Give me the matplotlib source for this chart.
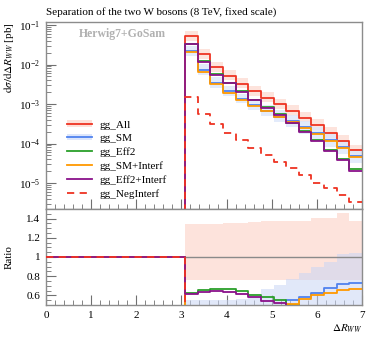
import numpy as np
import matplotlib
matplotlib.use("Agg")
import matplotlib.pyplot as plt
from matplotlib.ticker import MultipleLocator, LogLocator, NullFormatter, FixedLocator
from matplotlib.lines import Line2D
from matplotlib.patches import Patch
from matplotlib.legend_handler import HandlerTuple

plt.rcParams['font.family'] = ['Liberation Serif', 'DejaVu Serif']
plt.rcParams['mathtext.fontset'] = 'stix'

# ---- data ----
edges = np.linspace(0.0, 7.0, 26)          # bin edges (0.28 wide)
n_empty = 11                               # bins below 3.08 are empty
all_vals = [0.053, 0.0183, 0.00865, 0.00527, 0.00330, 0.00213, 0.00146, 0.00100,
            0.000676, 0.000450, 0.000294, 0.000181, 0.000116, 6.7e-5]
sm_vals = [0.0221, 0.00714, 0.00346, 0.00211, 0.00138, 0.000937, 0.000686, 0.00048,
           0.000372, 0.000263, 0.000185, 0.000123, 8.3e-5, 4.86e-5]
eff2_vals = [0.0334, 0.0120, 0.00576, 0.00349, 0.00212, 0.00129, 0.000850, 0.000554,
             0.000336, 0.000207, 0.000123, 6.7e-5, 3.99e-5, 2.26e-5]
sm_int_vals = [0.0212, 0.00659, 0.00320, 0.00195, 0.00129, 0.000895, 0.000657, 0.00047,
               0.000347, 0.000254, 0.000178, 0.000114, 7.63e-5, 4.46e-5]
eff2_int_vals = [0.0325, 0.01155, 0.00555, 0.00335, 0.00203, 0.00124, 0.000793, 0.000519,
                 0.000324, 0.000198, 0.000118, 6.5e-5, 3.83e-5, 2.01e-5]
neg_vals = [0.00148, 0.000548, 0.000306, 0.000188, 0.000123, 7.8e-5, 5.1e-5, 3.4e-5,
            2.4e-5, 1.6e-5, 9.8e-6, 7.5e-6, 5.0e-6, 3.4e-6]
# scale-variation band factors
all_up = [1.34, 1.34, 1.34, 1.35, 1.35, 1.36, 1.37, 1.38, 1.38, 1.38, 1.41, 1.41, 1.46, 1.38]
all_dn = [0.76, 0.76, 0.76, 0.76, 0.76, 0.76, 0.76, 0.76, 0.76, 0.76, 0.76, 0.76, 0.76, 0.76]
sm_up = [1.33, 1.42, 1.39, 1.39, 1.34, 1.32, 1.42, 1.47, 1.40, 1.42, 1.42, 1.40, 1.44, 1.44]
sm_dn = [0.76, 0.76, 0.76, 0.76, 0.76, 0.75, 0.74, 0.72, 0.70, 0.68, 0.66, 0.65, 0.65, 0.65]

labels = ['gg_All', 'gg_SM', 'gg_Eff2', 'gg_SM+Interf', 'gg_Eff2+Interf', 'gg_NegInterf']
colors = ['#ee3322', '#4f82ee', '#2a9f2a', '#ff9900', '#8a118a', '#ee3322']
styles = ['-', '-', '-', '-', '-', '--']
LW = 1.3

def full(v):
    return np.concatenate([np.zeros(n_empty), np.asarray(v, float)])

series = [full(v) for v in (all_vals, sm_vals, eff2_vals, sm_int_vals, eff2_int_vals, neg_vals)]
ref = series[0]
a_up, a_dn = full(all_vals) * full(all_up), full(all_vals) * full(all_dn)
s_up, s_dn = full(sm_vals) * full(sm_up), full(sm_vals) * full(sm_dn)
mask = ref > 0

def stepvals(v):
    return np.append(v, v[-1])

W, H = 374, 337
fig = plt.figure(figsize=(W / 100, H / 100), dpi=100)
ax = fig.add_axes([46 / W, 1 - 209 / H, 316 / W, 187 / H])
rx = fig.add_axes([46 / W, 1 - 305 / H, 316 / W, 96 / H], sharex=ax)

band_red = '#fde0d9'
band_blue = '#dde6fb'

# main panel bands
ax.fill_between(edges, stepvals(np.where(mask, a_dn, np.nan)), stepvals(np.where(mask, a_up, np.nan)),
                step='post', color=band_red, lw=0, zorder=1, alpha=0.9)
ax.fill_between(edges, stepvals(np.where(mask, s_dn, np.nan)), stepvals(np.where(mask, s_up, np.nan)),
                step='post', color=band_blue, lw=0, zorder=1, alpha=0.8)

for i, (v, c, ls) in enumerate(zip(series, colors, styles)):
    ax.step(edges, stepvals(v), where='post', color=c, ls=ls, lw=LW, zorder=3 + i,
            dashes=(4, 3) if ls == '--' else (None, None))

ax.set_yscale('log', nonpositive='clip')
ax.set_ylim(2.2e-6, 0.12)
ax.set_xlim(0, 7)

# ratio panel
with np.errstate(divide='ignore', invalid='ignore'):
    ratios = [np.where(mask, v / ref, 1.0) for v in series]
    r_aup = np.where(mask, a_up / ref, np.nan)
    r_adn = np.where(mask, a_dn / ref, np.nan)
    r_sup = np.where(mask, s_up / ref, np.nan)
    r_sdn = np.where(mask, s_dn / ref, np.nan)

rx.fill_between(edges, stepvals(r_adn), stepvals(r_aup), step='post', color=band_red, lw=0, zorder=1, alpha=0.9)
rx.fill_between(edges, stepvals(r_sdn), stepvals(r_sup), step='post', color='#c9d6f5', lw=0, zorder=2, alpha=0.55)

for i, (r, c, ls) in enumerate(zip(ratios, colors, styles)):
    if i == 0:
        r = np.where(mask, np.nan, r)
    rx.step(edges, stepvals(r), where='post', color=c, ls=ls, lw=LW, zorder=3 + i,
            dashes=(4, 3) if ls == '--' else (None, None))
# reference line where the reference is filled
rx.step(edges, stepvals(np.where(mask, ratios[0], np.nan)), where='post', color='#8a8a8a', lw=1.0, zorder=2.5)
rx.set_ylim(0.5, 1.5)

frame_c = '#8c8c8c'
for a in (ax, rx):
    for s in a.spines.values():
        s.set_color(frame_c)
        s.set_linewidth(1.0)
    a.tick_params(which='both', direction='in', color='#707070', top=False, right=False,
                  labelsize=8, pad=4)
    a.tick_params(which='major', length=7, width=0.8)
    a.tick_params(which='minor', length=3.5, width=0.6)
    a.xaxis.set_major_locator(MultipleLocator(1))
    a.xaxis.set_minor_locator(MultipleLocator(0.2))

ax.tick_params(labelbottom=False)
ax.yaxis.set_major_locator(LogLocator(base=10, numticks=10))
ax.yaxis.set_minor_locator(LogLocator(base=10, subs=np.arange(2, 10) * 1.0, numticks=20))
ax.yaxis.set_minor_formatter(NullFormatter())
rx.yaxis.set_major_locator(FixedLocator([0.6, 0.8, 1.0, 1.2, 1.4]))
rx.yaxis.set_minor_locator(MultipleLocator(0.05))
rx.set_yticklabels(['0.6', '0.8', '1', '1.2', '1.4'])
rx.set_xticks(range(8))
rx.set_xticklabels([str(k) for k in range(8)])

ax.set_title('Separation of the two W bosons (8 TeV, fixed scale)', fontsize=8, loc='left', pad=5)
ax.set_ylabel(r'$\mathrm{d}\sigma/\mathrm{d}\Delta R_{WW}$ [pb]', fontsize=8, loc='top', labelpad=2)
rx.set_ylabel('Ratio', fontsize=8, labelpad=9)
rx.set_xlabel(r'$\Delta R_{WW}$', fontsize=8, loc='right', labelpad=2)

ax.text(0.105, 0.935, 'Herwig7+GoSam', transform=ax.transAxes, fontsize=8.5, color='#b0b0b0',
        fontweight='bold', va='center', ha='left')

handles = []
for i, (lab, c, ls) in enumerate(zip(labels, colors, styles)):
    if i == 0:
        handles.append((Patch(color=band_red, lw=0), Line2D([], [], color=c, lw=LW)))
    elif i == 1:
        handles.append((Patch(color=band_blue, lw=0), Line2D([], [], color=c, lw=LW)))
    else:
        handles.append(Line2D([], [], color=c, ls=ls, lw=LW, dashes=(4, 3) if ls == '--' else (None, None)))
leg = ax.legend(handles, labels, loc='lower left', bbox_to_anchor=(0.045, 0.02), frameon=False,
                fontsize=8, handlelength=2.3, handleheight=0.5, labelspacing=0.38, handletextpad=0.6,
                borderaxespad=0.2,
                handler_map={tuple: HandlerTuple(ndivide=1)})

fig.savefig('out.png', dpi=100)
